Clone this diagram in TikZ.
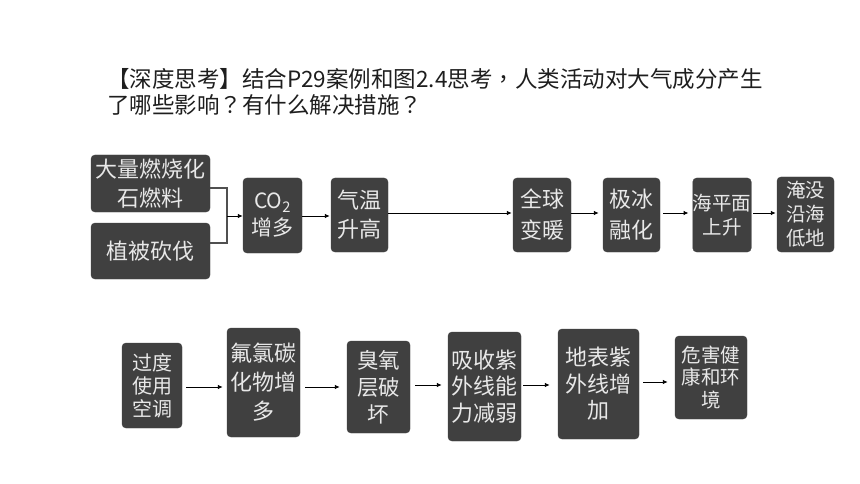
\documentclass[tikz,border=0pt]{standalone}
\usepackage{fontspec}
\setmainfont{Noto Sans CJK SC}
\newfontfamily\tcpunct{Noto Sans CJK TC}
\usetikzlibrary{arrows.meta}
\definecolor{boxfill}{HTML}{404040}
\definecolor{boxtext}{HTML}{E8E8E8}
\definecolor{titletext}{HTML}{1E1E1E}
\definecolor{linegray}{HTML}{505050}
\tikzset{
  box/.style={draw=boxfill, fill=boxfill, rounded corners=4pt, text=boxtext,
    align=center, inner sep=0pt},
  fa/.style={font=\fontsize{22}{29}\selectfont},
  fb/.style={font=\fontsize{19.5}{24}\selectfont},
  arr/.style={draw=black, line width=0.9pt, -{Latex[length=5pt,width=4.5pt]}},
  feed/.style={draw=linegray, line width=1.3pt},
  ttl/.style={text=titletext, font=\fontsize{22.5}{26}\selectfont, inner sep=0pt, anchor=base west}
}
\begin{document}
\begin{tikzpicture}[x=1pt,y=-1pt]
\useasboundingbox[fill=white] (0,0) rectangle (860,484);

\node[ttl] (t1) at (107,88) {【深度思考】结合P29案例和图2.4思考{\tcpunct ，}人类活动对大气成分产生};
\node[ttl] (t2) at (107,114) {了哪些影响{\tcpunct ？}有什么解决措施{\tcpunct ？}};

% row 1
\node[box,fa,minimum width=119pt,minimum height=57pt] (A) at (150.5,183.5) {大量燃烧化\\石燃料};
\node[box,fa,minimum width=119pt,minimum height=56pt] (B) at (150.5,251) {植被砍伐};
\node[box,minimum width=59pt,minimum height=75pt,font=\fontsize{21}{27}\selectfont] (C) at (272.5,215.5) {CO\textsubscript{2}\\增多};
\node[box,fa,minimum width=57pt,minimum height=74pt] (D) at (359.5,215) {气温\\升高};
\node[box,minimum width=58pt,minimum height=74pt,font=\fontsize{22}{31}\selectfont] (E) at (542,215) {全球\\变暖};
\node[box,minimum width=57pt,minimum height=74pt,font=\fontsize{22}{31}\selectfont] (F) at (631.5,215) {极冰\\融化};
\node[box,fb,minimum width=58pt,minimum height=74pt] (G) at (722,215) {海平面\\上升};
\node[box,fb,minimum width=57pt,minimum height=75pt] (H) at (805.5,214.5) {淹没\\沿海\\低地};

\coordinate (J) at (227,216);
\draw[feed] (A.east |- 0,188) -| (J);
\draw[feed] (B.east |- 0,243) -| (J);
\draw[arr] (J) -- (C.west |- J);
\draw[arr] (C.east |- 0,216) -- ([xshift=-1pt]D.west |- 0,216);
\draw[arr] (D.east |- 0,213) -- ([xshift=-1pt]E.west |- 0,213);
\draw[arr] (E.east |- 0,213) -- ([xshift=-4pt]F.west |- 0,213);
\draw[arr] ([xshift=3pt]F.east |- 0,213) -- ([xshift=-4pt]G.west |- 0,213);
\draw[arr] ([xshift=2pt]G.east |- 0,213) -- ([xshift=-1pt]H.west |- 0,213);

% row 2
\node[box,minimum width=60pt,minimum height=85pt,font=\fontsize{20}{23}\selectfont] (R1) at (152,385.5) {过度\\使用\\空调};
\node[box,fa,minimum width=73pt,minimum height=109pt] (R2) at (263.5,382.5) {氟氯碳\\化物增\\多};
\node[box,minimum width=63pt,minimum height=92pt,font=\fontsize{21.5}{27}\selectfont] (R3) at (378.5,387) {臭氧\\层破\\坏};
\node[box,minimum width=73pt,minimum height=109pt,font=\fontsize{22}{26.5}\selectfont] (R4) at (484.5,386.5) {吸收紫\\外线能\\力减弱};
\node[box,minimum width=81pt,minimum height=110pt,font=\fontsize{22}{26.5}\selectfont] (R5) at (598.5,384) {地表紫\\外线增\\加};
\node[box,minimum width=72pt,minimum height=83pt,font=\fontsize{19.5}{22.5}\selectfont] (R6) at (711,377.5) {危害健\\康和环\\境};

\draw[arr] ([xshift=4pt]R1.east |- 0,387) -- ([xshift=-4pt]R2.west |- 0,387);
\draw[arr] ([xshift=5pt]R2.east |- 0,387) -- ([xshift=-7pt]R3.west |- 0,387);
\draw[arr] ([xshift=5pt]R3.east |- 0,385) -- ([xshift=-6pt]R4.west |- 0,385);
\draw[arr] ([xshift=2pt]R4.east |- 0,385) -- ([xshift=-8pt]R5.west |- 0,385);
\draw[arr] ([xshift=4pt]R5.east |- 0,382) -- ([xshift=-7pt]R6.west |- 0,382);
\end{tikzpicture}
\end{document}
